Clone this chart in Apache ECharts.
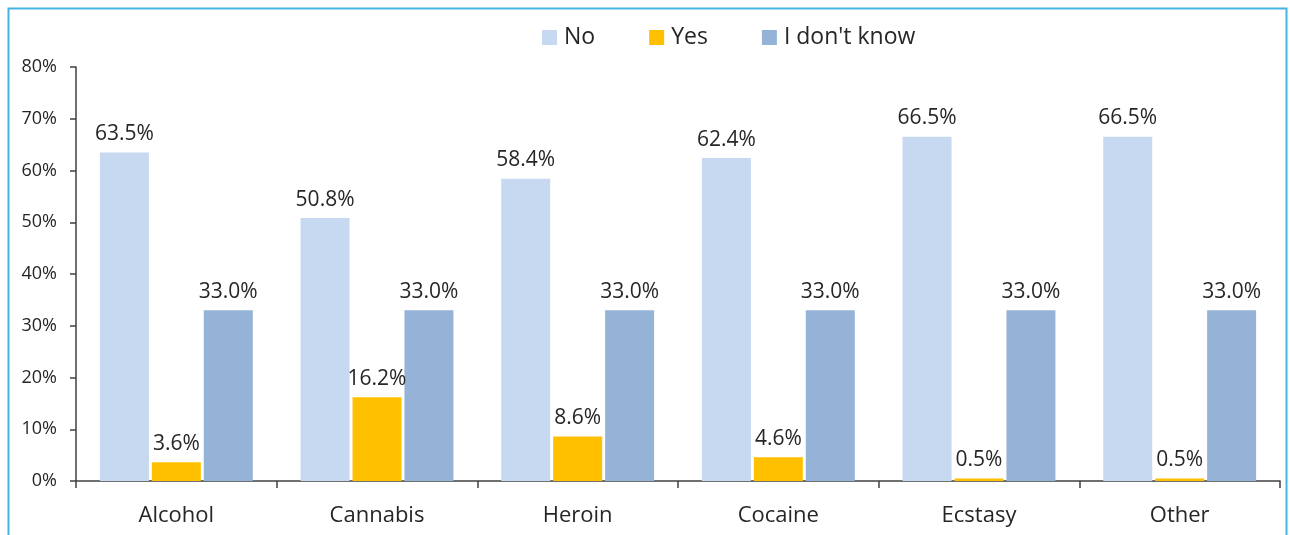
<!DOCTYPE html>
<html>
<head>
<meta charset="utf-8">
<script src="https://cdn.jsdelivr.net/npm/echarts@6/dist/echarts.min.js"></script>
<style>
  html, body { margin: 0; padding: 0; background: #fff; }
  #chart { width: 1290px; height: 535px; }
</style>
</head>
<body>
<div id="chart"></div>
<script>
// data
const categories = ['Alcohol', 'Cannabis', 'Heroin', 'Cocaine', 'Ecstasy', 'Other']
const noValues = [63.5, 50.8, 58.4, 62.4, 66.5, 66.5]
const yesValues = [3.6, 16.2, 8.6, 4.6, 0.5, 0.5]
const dontKnowValues = [33.0, 33.0, 33.0, 33.0, 33.0, 33.0]

const FONT = '"Open Sans", "Noto Sans", sans-serif'
const TEXT = '#262626'

const myChart = echarts.init(document.getElementById('chart'))

function barSeries (name, data, color) {
  return {
    name: name,
    type: 'bar',
    data: data,
    barWidth: 49,
    barGap: '6%',
    itemStyle: { color: color },
    label: {
      show: true,
      position: 'top',
      distance: 8,
      color: TEXT,
      fontFamily: FONT,
      fontSize: 21,
      formatter: p => p.value.toFixed(1) + '%'
    }
  }
}

const option = {
  animation: false,
  backgroundColor: '#fff',
  textStyle: { fontFamily: FONT },
  graphic: [
    {
      type: 'rect',
      shape: { x: 8.5, y: 8.5, width: 1278, height: 560 },
      style: { fill: 'none', stroke: '#44B4E4', lineWidth: 2 },
      silent: true
    }
  ],
  legend: {
    top: 21,
    left: 537,
    itemWidth: 15,
    itemHeight: 15,
    itemGap: 54,
    icon: 'rect',
    textStyle: { color: TEXT, fontFamily: FONT, fontSize: 23, padding: [0, 0, 0, 2] }
  },
  grid: { left: 76, right: 10, top: 67, bottom: 54 },
  xAxis: {
    type: 'category',
    data: categories,
    axisLine: { lineStyle: { color: '#404040', width: 1.5 } },
    axisTick: { show: true, length: 7, lineStyle: { color: '#404040', width: 1.5 } },
    axisLabel: { color: TEXT, fontFamily: FONT, fontSize: 22, margin: 24 }
  },
  yAxis: {
    type: 'value',
    min: 0,
    max: 80,
    interval: 10,
    splitLine: { show: false },
    axisLine: { show: true, lineStyle: { color: '#404040', width: 1.5 } },
    axisTick: { show: true, length: 6, lineStyle: { color: '#404040', width: 1.5 } },
    axisLabel: { color: TEXT, fontFamily: FONT, fontSize: 18, margin: 19, formatter: '{value}%' }
  },
  series: [
    barSeries('No', noValues, '#C6D9F1'),
    barSeries('Yes', yesValues, '#FFC000'),
    barSeries("I don't know", dontKnowValues, '#95B3D7')
  ]
}
myChart.setOption(option)
</script>
</body>
</html>
